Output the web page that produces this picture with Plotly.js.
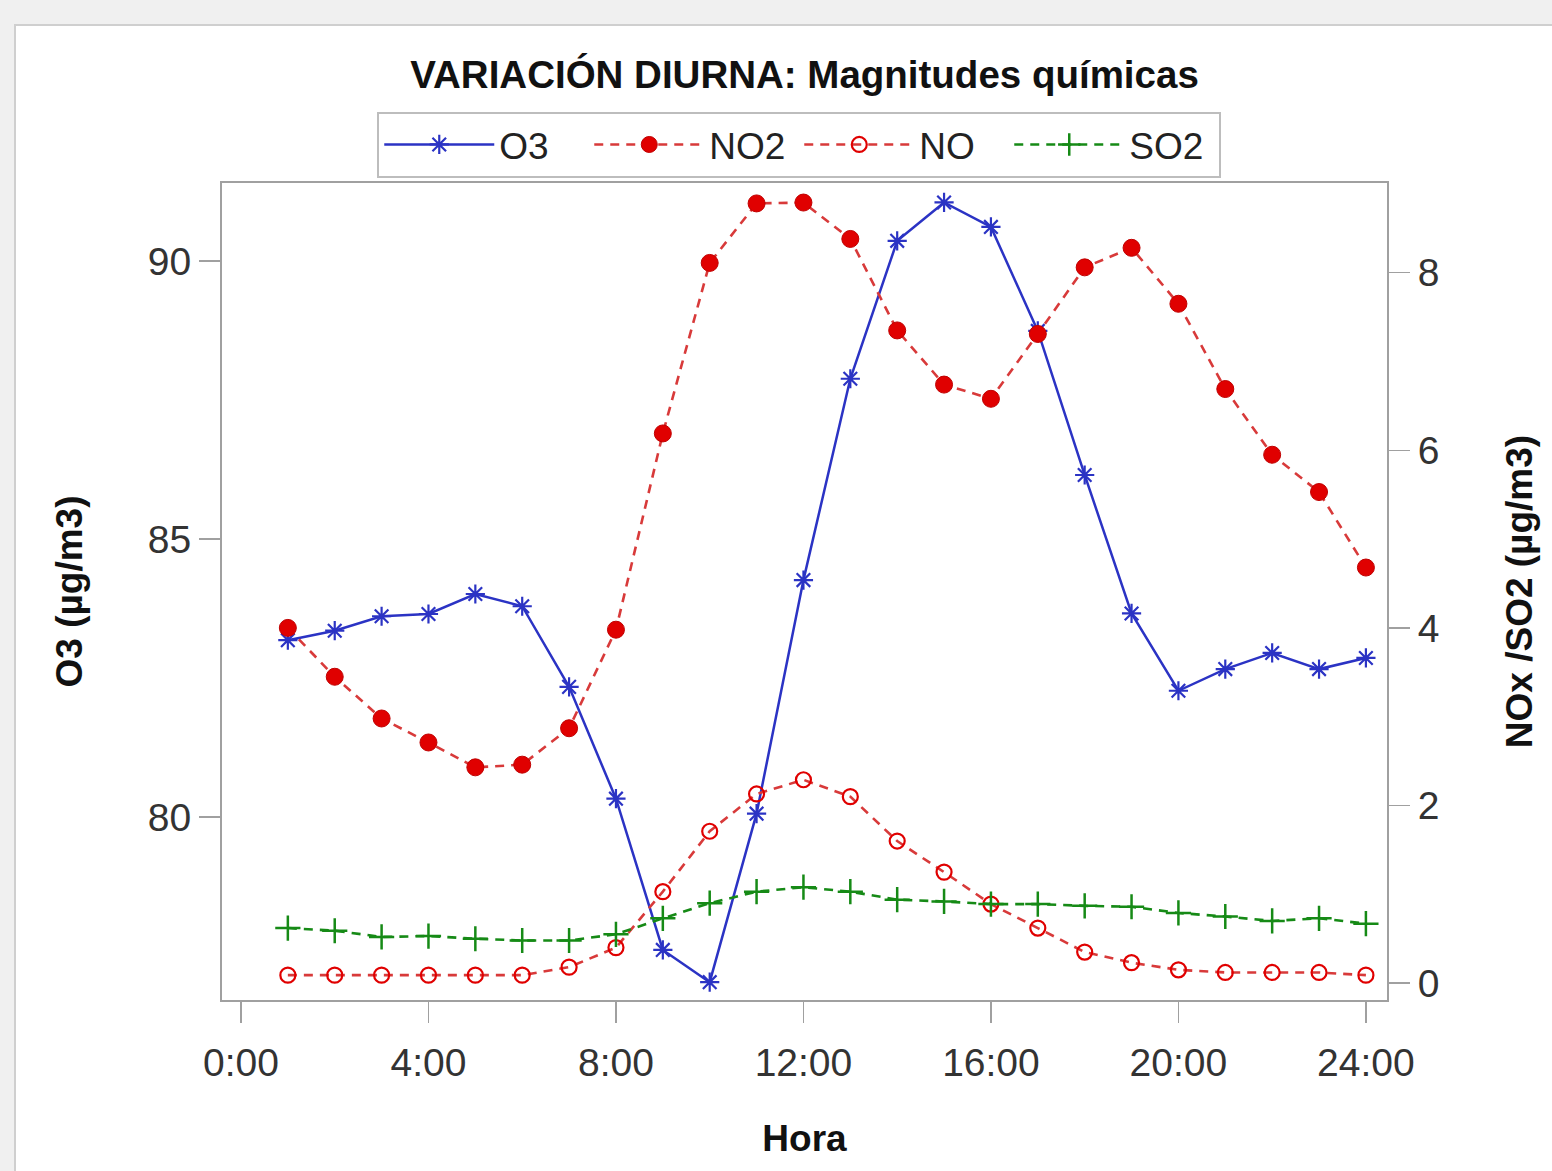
<!DOCTYPE html>
<html>
<head>
<meta charset="utf-8">
<script src="https://cdn.plot.ly/plotly-3.0.1.min.js"></script>
<style>
  html, body { margin:0; padding:0; width:1552px; height:1171px; background:#f0f0f0; overflow:hidden; }
  #panel { position:absolute; left:14px; top:24px; width:1540px; height:1150px; background:#ffffff; border-left:2px solid #cfcfcf; border-top:2px solid #cfcfcf; }
  #chart { position:absolute; left:0; top:0; width:1552px; height:1171px; }
</style>
</head>
<body>
<div id="panel"></div>
<div id="chart"></div>
<script>
// Hour of day (1..24)
const hours = [1,2,3,4,5,6,7,8,9,10,11,12,13,14,15,16,17,18,19,20,21,22,23,24];
// O3 (µg/m3) - left axis
const o3  = [83.18,83.35,83.61,83.65,84.01,83.79,82.34,80.33,77.61,77.03,80.06,84.26,87.88,90.36,91.05,90.61,88.74,86.15,83.66,82.27,82.66,82.95,82.66,82.86];
// NO2, NO, SO2 (µg/m3) - right axis
const no2 = [4.00,3.45,2.98,2.71,2.43,2.46,2.87,3.98,6.19,8.11,8.78,8.79,8.38,7.35,6.74,6.58,7.31,8.06,8.28,7.65,6.69,5.95,5.53,4.68];
const no  = [0.09,0.09,0.09,0.09,0.09,0.09,0.18,0.40,1.03,1.71,2.13,2.29,2.10,1.60,1.25,0.89,0.62,0.35,0.23,0.15,0.12,0.12,0.12,0.09];
const so2 = [0.62,0.59,0.52,0.53,0.50,0.48,0.48,0.55,0.73,0.90,1.03,1.08,1.03,0.94,0.92,0.89,0.89,0.87,0.86,0.79,0.75,0.70,0.73,0.67];
// Tick labels
const xTickVals = [0,4,8,12,16,20,24];
const xTickText = ["0:00","4:00","8:00","12:00","16:00","20:00","24:00"];
const yTickVals = [80,85,90];
const y2TickVals = [0,2,4,6,8];

const blue = '#2b33c4', red = '#e00000', redLine = '#d83a3a', green = '#168a16';
const dash = '9px,7px';

const traces = [
  { x: hours, y: o3, name: 'O3', type: 'scatter', mode: 'lines+markers', yaxis: 'y',
    line: { color: blue, width: 2.5 },
    marker: { symbol: 'asterisk-open', size: 16, color: blue, line: { color: blue, width: 2.2 } } },
  { x: hours, y: no2, name: 'NO2', type: 'scatter', mode: 'lines+markers', yaxis: 'y2',
    line: { color: redLine, width: 2.6, dash: dash },
    marker: { symbol: 'circle', size: 17, color: red, line: { color: '#c00000', width: 1 } } },
  { x: hours, y: no, name: 'NO', type: 'scatter', mode: 'lines+markers', yaxis: 'y2',
    line: { color: redLine, width: 2.6, dash: dash },
    marker: { symbol: 'circle-open', size: 15, color: red, line: { color: red, width: 2.2 } } },
  { x: hours, y: so2, name: 'SO2', type: 'scatter', mode: 'lines+markers', yaxis: 'y2',
    line: { color: green, width: 2.6, dash: dash },
    marker: { symbol: 'cross-thin-open', size: 18, color: green, line: { color: green, width: 2.5 } } }
];

const axisCommon = {
  showgrid: false, zeroline: false, showline: true, linecolor: '#a0a0a0', linewidth: 2,
  ticks: 'outside', ticklen: 21, tickwidth: 1.5, tickcolor: '#a0a0a0',
  tickfont: { size: 39, color: '#333' }
};

const layout = {
  width: 1552, height: 1171,
  margin: { l: 222, r: 165, t: 183, b: 171, pad: 0 },
  paper_bgcolor: 'rgba(0,0,0,0)', plot_bgcolor: '#ffffff',
  font: { family: 'Liberation Sans, Arial, sans-serif', size: 37, color: '#333' },
  title: { text: '<b>VARIACIÓN DIURNA: Magnitudes químicas</b>', font: { size: 38.5, color: '#111' },
           x: 0.5, xref: 'paper', xanchor: 'center', y: 1 - 75/1171, yref: 'container', yanchor: 'middle' },
  showlegend: true,
  legend: { orientation: 'h', x: 0.4955, xanchor: 'center', y: 1.087, yanchor: 'top',
            bordercolor: '#bdbdbd', borderwidth: 2, bgcolor: '#ffffff',
            font: { size: 37, color: '#222' }, itemwidth: 110,
            entrywidth: 85, entrywidthmode: 'pixels', traceorder: 'normal' },
  xaxis: Object.assign({}, axisCommon, {
    range: [-0.405, 24.45], tickmode: 'array', tickvals: xTickVals, ticktext: xTickText, mirror: true,
    ticklabelstandoff: 6,
    title: { text: '<b>Hora</b>', font: { size: 37, color: '#111' }, standoff: 42 }
  }),
  yaxis: Object.assign({}, axisCommon, {
    range: [76.71, 91.40], tickmode: 'array', tickvals: yTickVals,
    title: { text: '<b>O3 (µg/m3)</b>', font: { size: 37, color: '#111' }, standoff: 54 }
  }),
  yaxis2: Object.assign({}, axisCommon, {
    range: [-0.19, 9.01], tickmode: 'array', tickvals: y2TickVals, overlaying: 'y', side: 'right',
    title: { text: '<b>NOx /SO2 (µg/m3)</b>', font: { size: 37, color: '#111' }, standoff: 68 }
  })
};

Plotly.newPlot('chart', traces, layout, { displayModeBar: false, staticPlot: true });
</script>
</body>
</html>
